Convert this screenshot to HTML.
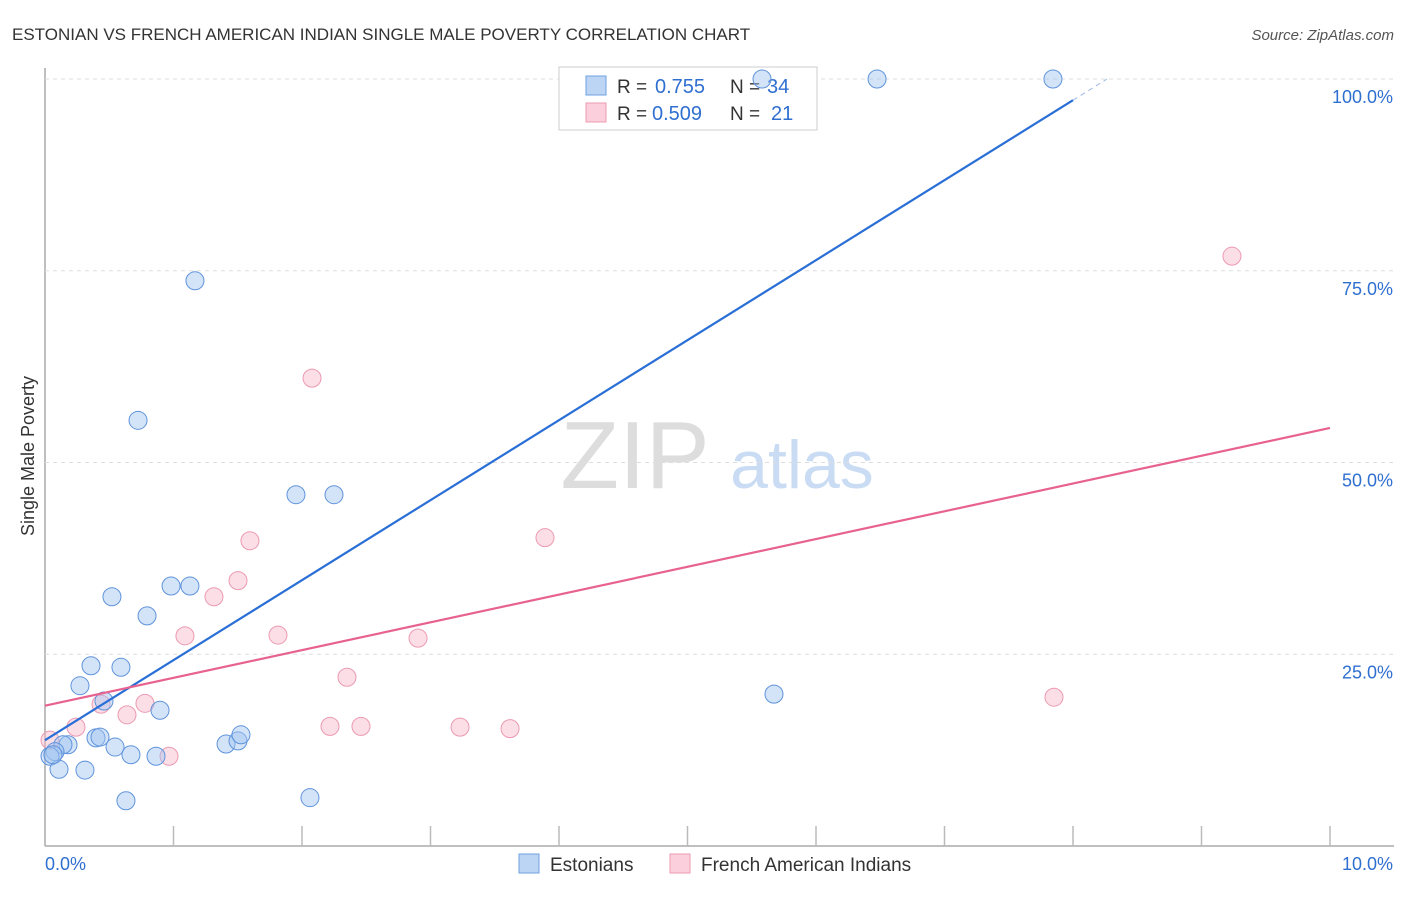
<!DOCTYPE html>
<html><head><meta charset="utf-8"><style>
body{margin:0;background:#fff;font-family:"Liberation Sans",sans-serif}
svg text{font-family:"Liberation Sans",sans-serif}
</style></head><body>
<svg id="c" width="1406" height="892">
<text x="12" y="40" font-size="17" fill="#333">ESTONIAN VS FRENCH AMERICAN INDIAN SINGLE MALE POVERTY CORRELATION CHART</text>
<text x="1394" y="40" font-size="15" fill="#555" font-style="italic" text-anchor="end">Source: ZipAtlas.com</text>
<text x="34" y="456" font-size="18" fill="#333" text-anchor="middle" transform="rotate(-90 34 456)">Single Male Poverty</text>
<text x="635" y="488" font-size="96" fill="#ddd" font-family="Liberation Serif" text-anchor="middle">ZIP</text>
<text x="802" y="488" font-size="68" fill="#c9dcf3" text-anchor="middle">atlas</text>
<g id="grid"></g>
<g>
<rect x="559" y="67" width="258" height="63" fill="#fff" stroke="#ccc"/>
<rect x="586" y="76" width="20" height="19" fill="#bcd5f5" stroke="#6fa0e0"/>
<rect x="586" y="103" width="20" height="19" fill="#fbd0dc" stroke="#ec9ab2"/>
<text x="617" y="93" font-size="19" fill="#333">R =</text>
<text x="655" y="93" font-size="20" fill="#2f6fd0">0.755</text>
<text x="730" y="93" font-size="19" fill="#333">N =</text>
<text x="767" y="93" font-size="20" fill="#2f6fd0">34</text>
<text x="617" y="120" font-size="19" fill="#333">R =</text>
<text x="652" y="120" font-size="20" fill="#2f6fd0">0.509</text>
<text x="730" y="120" font-size="19" fill="#333">N =</text>
<text x="771" y="120" font-size="20" fill="#2f6fd0">21</text>
</g>
<g id="pts"></g><g id="lines"></g>
<g>
<rect x="519" y="854" width="20" height="19" fill="#bcd5f5" stroke="#6fa0e0"/>
<text x="550" y="871" font-size="19" fill="#333">Estonians</text>
<rect x="670" y="854" width="20" height="19" fill="#fbd0dc" stroke="#ec9ab2"/>
<text x="701" y="871" font-size="19" fill="#333">French American Indians</text>
</g>
<text x="45" y="870" font-size="18" fill="#2f6fd0">0.0%</text>
<text x="1393" y="870" font-size="18" fill="#2f6fd0" text-anchor="end">10.0%</text>
</svg>
<script>
const yTicks=[25,50,75,100];
const yTickLabels=["25.0%","50.0%","75.0%","100.0%"];
const xTicks=[1,2,3,4,5,6,7,8,9,10];
const estX=[1.167,0.724,1.953,2.249,0.521,0.981,1.128,0.794,0.358,0.591,0.272,0.459,0.895,0.397,0.428,0.545,0.669,0.864,0.179,0.140,0.078,0.039,0.109,0.311,0.630,2.062,1.409,1.502,1.525,5.673,5.580,6.475,7.844,0.062];
const estY=[73.7,55.5,45.8,45.8,32.5,33.9,33.9,30.0,23.5,23.3,20.9,18.9,17.7,14.1,14.2,12.9,11.9,11.7,13.2,13.2,12.3,11.7,10.0,9.9,5.9,6.3,13.3,13.7,14.5,19.8,100,100,100,11.9];
const fraX=[2.078,1.595,3.891,1.502,1.315,1.089,1.813,2.903,2.350,0.778,0.436,0.638,0.241,2.218,2.459,3.230,3.619,0.965,9.237,7.852,0.039];
const fraY=[61.0,39.8,40.2,34.6,32.5,27.4,27.5,27.1,22.0,18.6,18.5,17.1,15.5,15.6,15.6,15.5,15.3,11.7,76.9,19.4,13.8];
const estLine=[13.8,10.43];
const fraLine=[18.3,3.62];
const X=v=>45+v*128.5, Y=v=>846-v*7.67;
const NS="http://www.w3.org/2000/svg";
function mk(p,t,a){const e=document.createElementNS(NS,t);for(const k in a)e.setAttribute(k,a[k]);document.getElementById(p).appendChild(e);return e;}
let ax=mk('grid','line',{x1:45,y1:68,x2:45,y2:846,stroke:'#aaa','stroke-width':1.5});


let bx=mk('grid','line',{x1:45,y1:846,x2:1394,y2:846,stroke:'#aaa','stroke-width':1.5});


yTicks.forEach((t,i)=>{
 const g=mk('grid','line',{x1:45,y1:Y(t),x2:1394,y2:Y(t),stroke:'#ddd','stroke-dasharray':'4,4'});
 
 
 const l=mk('grid','text',{x:1393,y:Y(t)+24,'font-size':18,fill:'#2f6fd0','text-anchor':'end'});
 l.textContent=yTickLabels[i];
 
 
});
xTicks.forEach(t=>{
 const k=mk('grid','line',{x1:X(t),y1:826,x2:X(t),y2:846,stroke:'#bbb','stroke-width':1.5});
 
 
});
fraX.forEach((x,i)=>{
 const c=mk('pts','circle',{cx:X(x),cy:Y(fraY[i]),r:9,fill:'rgba(247,182,200,0.45)',stroke:'#ec9ab2'});
 
 
});
estX.forEach((x,i)=>{
 const c=mk('pts','circle',{cx:X(x),cy:Y(estY[i]),r:9,fill:'rgba(160,196,240,0.45)',stroke:'#5f93dc'});
 
 
});
const bEnd=8.0;
let l1=mk('lines','line',{x1:X(0),y1:Y(estLine[0]),x2:X(bEnd),y2:Y(estLine[0]+estLine[1]*bEnd),stroke:'#2a6fd6','stroke-width':2.2});


const bx2=(100-estLine[0])/estLine[1];
let l1d=mk('lines','line',{x1:X(bEnd),y1:Y(estLine[0]+estLine[1]*bEnd),x2:X(bx2),y2:Y(100),stroke:'#9bb8e6','stroke-width':1,'stroke-dasharray':'5,4'});


let l2=mk('lines','line',{x1:X(0),y1:Y(fraLine[0]),x2:X(10),y2:Y(fraLine[0]+fraLine[1]*10),stroke:'#e8628f','stroke-width':2.2});


</script>
</body></html>
